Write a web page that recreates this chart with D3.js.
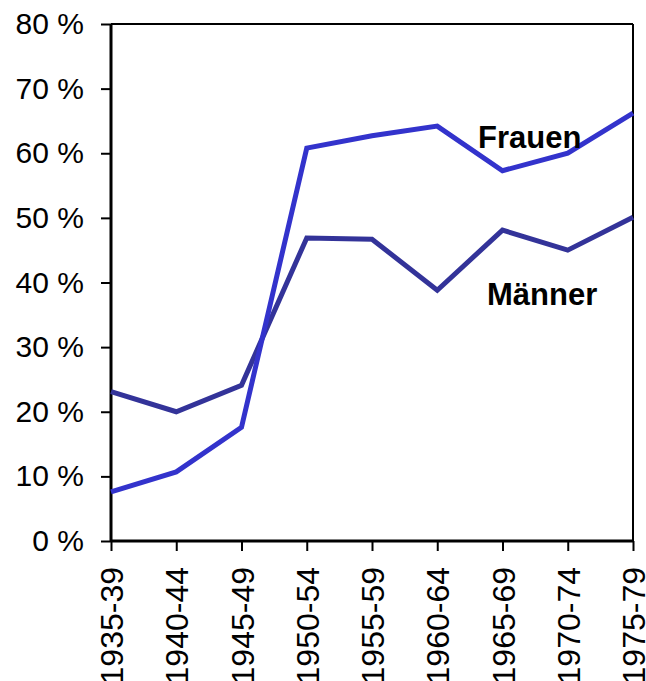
<!DOCTYPE html>
<html>
<head>
<meta charset="utf-8">
<script src="https://cdn.jsdelivr.net/npm/d3@7"></script>
<style>
  body { margin: 0; background: #fff; }
  svg { font-family: "Liberation Sans", Arial, sans-serif; display: block; }
</style>
</head>
<body>
<div id="chart"></div>
<script>
let periods = ["1935-39", "1940-44", "1945-49", "1950-54", "1955-59", "1960-64", "1965-69", "1970-74", "1975-79"];
let frauen = [7.6, 10.7, 17.6, 60.8, 62.7, 64.2, 57.3, 60.0, 66.2];
let maenner = [23.1, 20.0, 24.1, 46.9, 46.7, 38.8, 48.1, 45.0, 50.1];
let yTicks = [0, 10, 20, 30, 40, 50, 60, 70, 80];

let _default = {
    width: 646,
    height: 681,
    left: 111,
    right: 13,
    top: 24,
    bottom: 140,
    line_width: 5,
    font_size: 30
};
let w = _default.width - _default.left - _default.right;
let h = _default.height - _default.top - _default.bottom;

let svg = d3.select("div#chart")
    .append("svg")
    .attr("width", _default.width)
    .attr("height", _default.height);
let g = svg.append("g")
    .attr("transform", `translate(${_default.left}, ${_default.top})`);

let x = d3.scalePoint().domain(periods).range([0, w]);
let y = d3.scaleLinear().domain([0, 80]).range([h, 0]);

// frame on top and right
g.append("line").attr("x1", 0).attr("x2", w).attr("y1", 0).attr("y2", 0)
    .attr("stroke", "black").attr("stroke-width", 2);
g.append("line").attr("x1", w).attr("x2", w).attr("y1", 0).attr("y2", h)
    .attr("stroke", "black").attr("stroke-width", 2);

let yAxis = g.append("g")
    .call(d3.axisLeft(y).tickValues(yTicks).tickFormat(d => d + " %").tickSize(10).tickPadding(17));
let xAxis = g.append("g")
    .attr("transform", `translate(0, ${h})`)
    .call(d3.axisBottom(x).tickSize(10).tickPadding(15));

[yAxis, xAxis].forEach(a => {
    a.select(".domain").attr("stroke", "black").attr("stroke-width", 3);
    a.selectAll(".tick line").attr("stroke", "black").attr("stroke-width", 2);
    a.selectAll("text")
        .attr("font-family", "Liberation Sans, Arial, sans-serif")
        .attr("font-size", _default.font_size)
        .attr("fill", "black");
});
xAxis.selectAll(".domain").attr("d", `M0,0H${w}`);
yAxis.selectAll(".domain").attr("d", `M0,${h}V0`);

xAxis.selectAll(".tick text")
    .attr("font-size", 32)
    .attr("transform", "rotate(-90)")
    .attr("text-anchor", "end")
    .attr("x", -26)
    .attr("y", 0)
    .attr("dy", "0.36em");

let line = d3.line()
    .x((d, i) => x(periods[i]))
    .y(d => y(d));

let series = [
    { name: "Männer", values: maenner, color: "#333399", label_x: 487, label_y: 305 },
    { name: "Frauen", values: frauen, color: "#3333cc", label_x: 478, label_y: 148 }
];

g.selectAll("path.series").data(series).enter().append("path")
    .attr("class", "series")
    .attr("fill", "none")
    .attr("stroke", d => d.color)
    .attr("stroke-width", _default.line_width)
    .attr("d", d => line(d.values));

svg.selectAll("text.label").data(series).enter().append("text")
    .attr("class", "label")
    .attr("x", d => d.label_x)
    .attr("y", d => d.label_y)
    .attr("font-size", 31)
    .attr("font-weight", "bold")
    .attr("fill", "black")
    .text(d => d.name);
</script>
</body>
</html>
